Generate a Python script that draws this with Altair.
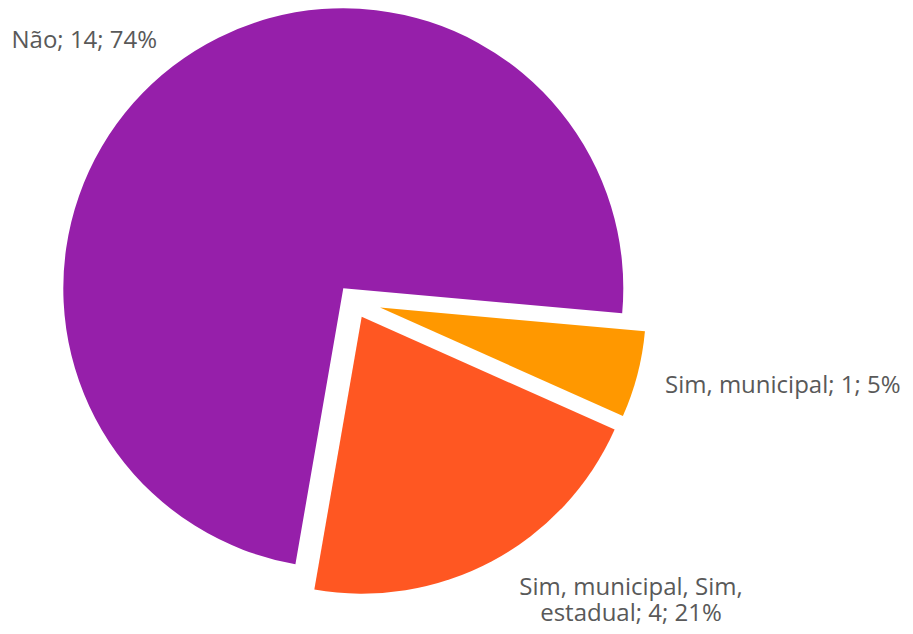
import math
import altair as alt
import pandas as pd

# ---- data ----
categories = ["Sim, municipal", "Sim, municipal, Sim, estadual", "Não"]
values = [1, 4, 14]
order = [0, 1, 2]
label_lines = [["Sim, municipal; 1; 5%"],
               ["Sim, municipal, Sim,", "estadual; 4; 21%"],
               ["Não; 14; 74%"]]

# ---- style ----
colors = ["#FF9800", "#FF5722", "#961FAA"]
START = 1.66  # radians, clockwise from 12 o'clock
M = 8  # page margin
# exploded slice centres and radii (page px)
centres = [(380.0, 307.5, 266), (361.7, 316.7, 277), (343.3, 288.3, 280)]
label_pos = [(665, 393, "left"), (631, 595, "center"), (11.5, 47.5, "left")]

df = pd.DataFrame({"category": categories, "value": values, "order": order})
lab_df = pd.DataFrame({"category": categories, "label": label_lines})

base = (
    alt.Chart(df)
    .transform_joinaggregate(total="sum(value)")
    .transform_window(cum="sum(value)", sort=[alt.SortField("order")])
    .transform_calculate(
        t0=f"{START} + 2*PI*(datum.cum - datum.value)/datum.total",
        t1=f"{START} + 2*PI*datum.cum/datum.total",
    )
)

layers = []
for i, cat in enumerate(categories):
    cx, cy, r = centres[i]
    layers.append(
        base.transform_filter(alt.datum.category == cat)
        .mark_arc(radius=r, stroke=None)
        .encode(
            theta=alt.Theta("t0:Q", scale=None),
            theta2="t1:Q",
            x=alt.value(cx - M),
            y=alt.value(cy - M),
            color=alt.value(colors[i]),
        )
    )
    lx, ly, al = label_pos[i]
    layers.append(
        alt.Chart(lab_df)
        .transform_filter(alt.datum.category == cat)
        .mark_text(font="Open Sans", fontSize=24, fontWeight="normal", color="#595959",
                   align=al, baseline="alphabetic", lineHeight=26)
        .encode(text="label", x=alt.value(lx - M), y=alt.value(ly - M))
    )

chart = (
    alt.layer(*layers)
    .properties(width=897, height=618, autosize="none", padding=0)
    .configure_view(stroke=None)
)

chart.save("out.html", embed_options={"renderer": "svg", "actions": False})
